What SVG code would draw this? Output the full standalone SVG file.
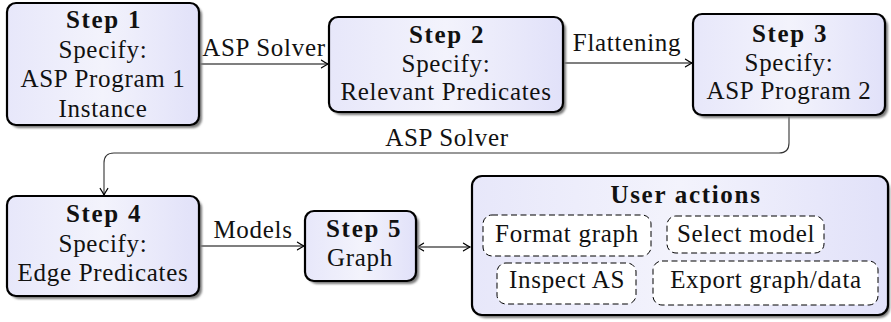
<svg xmlns="http://www.w3.org/2000/svg" width="891" height="322" viewBox="0 0 891 322" font-family="Liberation Serif, DejaVu Serif, serif">
<defs>
<linearGradient id="fillg" x1="0" y1="0" x2="1" y2="0">
<stop offset="0" stop-color="#e7e7fa"/>
<stop offset="0.5" stop-color="#f3f3fc"/>
<stop offset="1" stop-color="#e1e1f9"/>
</linearGradient>
<filter id="blur" x="-10%" y="-10%" width="120%" height="120%"><feGaussianBlur stdDeviation="0.8"/></filter>
<marker id="arr" markerWidth="10" markerHeight="10" viewBox="-8 -5 10 10" refX="0" refY="0" orient="auto" markerUnits="userSpaceOnUse">
<path d="M -6.5 -3.8 Q -2 -0.9 0 0 Q -2 0.9 -6.5 3.8" fill="none" stroke="#000" stroke-width="1.3" stroke-linecap="round"/>
</marker>
<marker id="arrs" markerWidth="10" markerHeight="10" viewBox="-8 -5 10 10" refX="0" refY="0" orient="auto-start-reverse" markerUnits="userSpaceOnUse">
<path d="M -6.5 -3.8 Q -2 -0.9 0 0 Q -2 0.9 -6.5 3.8" fill="none" stroke="#000" stroke-width="1.3" stroke-linecap="round"/>
</marker>
</defs>
<style>
.box{fill:url(#fillg);stroke:#000;stroke-width:2.2}
.shadow{fill:#7a7a7a;filter:url(#blur)}
.dash{fill:#fff;stroke:#000;stroke-width:1;stroke-dasharray:6 3.5}
.t{font-size:25px;fill:#111;letter-spacing:0.7px;text-anchor:middle}
.b{font-weight:bold;letter-spacing:1.7px}
.l{text-anchor:start}
.c{fill:none;stroke:#000;stroke-width:1.1}
.c2{fill:none;stroke:#333;stroke-width:1.1}
</style>
<g id="connectors">
<path class="c" d="M 199 64 L 328 64" marker-end="url(#arr)"/>
<text class="t" x="264" y="56" font-family="Liberation Serif">ASP Solver</text>
<path class="c" d="M 563 63 L 692 63" marker-end="url(#arr)"/>
<text class="t" x="627" y="51">Flattening</text>
<path class="c2" d="M 789 115 L 789 143 Q 789 153 779 153 L 114 153 Q 104 153 104 163 L 104 195" marker-end="url(#arr)"/>
<text class="t" x="447" y="146">ASP Solver</text>
<path class="c" d="M 199 246 L 304 246" marker-end="url(#arr)"/>
<text class="t" x="253" y="238">Models</text>
<path class="c" d="M 417 247 L 470 247" marker-start="url(#arrs)" marker-end="url(#arrs)"/>
</g>
<g id="step1">
<rect class="shadow" x="10" y="6" width="192" height="122" rx="9"/>
<rect class="box" x="7" y="3" width="192" height="122" rx="9"/>
<text class="t b" x="104" y="28">Step 1</text>
<text class="t" x="103" y="57.5">Specify:</text>
<text class="t" x="103" y="87">ASP Program 1</text>
<text class="t" x="103" y="116.5">Instance</text>
</g>
<g id="step2">
<rect class="shadow" x="332" y="20" width="234" height="95" rx="9"/>
<rect class="box" x="329" y="17" width="234" height="95" rx="9"/>
<text class="t b" x="447" y="43">Step 2</text>
<text class="t" x="446" y="71.5">Specify:</text>
<text class="t" x="446" y="100">Relevant Predicates</text>
</g>
<g id="step3">
<rect class="shadow" x="696" y="17" width="192" height="101" rx="9"/>
<rect class="box" x="693" y="14" width="192" height="101" rx="9"/>
<text class="t b" x="790" y="42">Step 3</text>
<text class="t" x="789" y="70.5">Specify:</text>
<text class="t" x="789" y="99">ASP Program 2</text>
</g>
<g id="step4">
<rect class="shadow" x="10" y="199" width="192" height="100" rx="9"/>
<rect class="box" x="7" y="196" width="192" height="100" rx="9"/>
<text class="t b" x="104" y="222">Step 4</text>
<text class="t" x="103" y="251.5">Specify:</text>
<text class="t" x="103" y="281">Edge Predicates</text>
</g>
<g id="step5">
<rect class="shadow" x="308" y="214" width="111" height="70" rx="9"/>
<rect class="box" x="305" y="211" width="111" height="70" rx="9"/>
<text class="t b l" x="326" y="237">Step 5</text>
<text class="t l" x="327" y="266">Graph</text>
</g>
<g id="useractions">
<rect class="shadow" x="475" y="179" width="415" height="139" rx="10"/>
<rect class="box" x="472" y="176" width="416" height="139" rx="10"/>
<text class="t b" x="686" y="203">User actions</text>
<g id="formatgraph">
<rect class="dash" x="483" y="215" width="168" height="41" rx="9"/>
<text class="t" x="567" y="242">Format graph</text>
</g>
<g id="selectmodel">
<rect class="dash" x="667" y="216" width="157" height="37" rx="9"/>
<text class="t" x="746" y="242">Select model</text>
</g>
<g id="inspectas">
<rect class="dash" x="497" y="263" width="139" height="41" rx="9"/>
<text class="t" x="567" y="288">Inspect AS</text>
</g>
<g id="exportgraph">
<rect class="dash" x="653" y="261" width="225" height="44" rx="9"/>
<text class="t" x="766" y="288">Export graph/data</text>
</g>
</g>
</svg>
